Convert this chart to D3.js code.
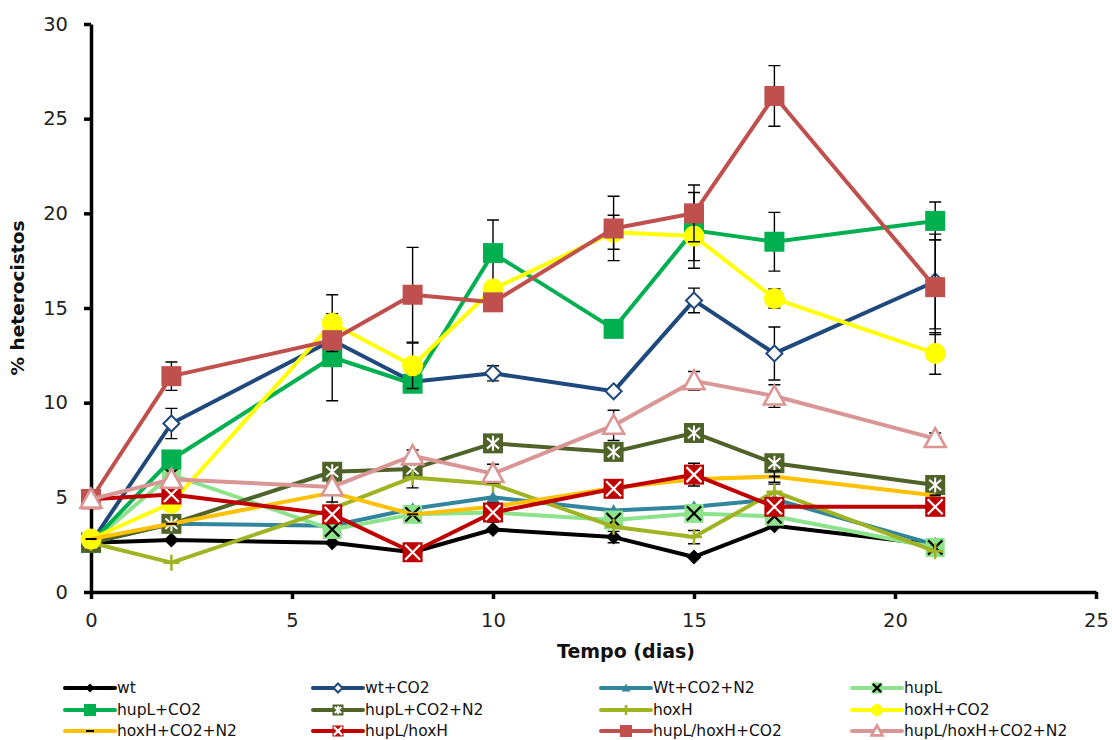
<!DOCTYPE html>
<html><head><meta charset="utf-8">
<script src="https://cdn.jsdelivr.net/npm/d3@7"></script>
<style>body{margin:0;background:#fff;} svg{display:block;}</style>
</head><body>
<svg id="c" width="1112" height="740"></svg>
<script>
const days = [0, 2, 6, 8, 10, 13, 15, 17, 21];
const xTicks = [0, 5, 10, 15, 20, 25];
const yTicks = [0, 5, 10, 15, 20, 25, 30];
const seriesNames = ["wt","wt+CO2","Wt+CO2+N2","hupL","hupL+CO2","hupL+CO2+N2","hoxH","hoxH+CO2","hoxH+CO2+N2","hupL/hoxH","hupL/hoxH+CO2","hupL/hoxH+CO2+N2"];
const wt            = [2.6, 2.75, 2.6, 2.1, 3.3, 2.9, 1.85, 3.5, 2.5];
const wtCO2         = [2.6, 8.9, 13.3, 11.1, 11.55, 10.6, 15.4, 12.6, 16.4];
const wtCO2N2       = [2.6, 3.6, 3.5, 4.4, 5.0, 4.3, 4.5, 4.9, 2.5];
const hupL          = [2.6, 6.2, 3.3, 4.1, 4.2, 3.8, 4.15, 4.0, 2.35];
const hupLCO2       = [2.6, 7.0, 12.4, 11.0, 17.9, 13.9, 19.1, 18.5, 19.6];
const hupLCO2N2     = [2.6, 3.6, 6.35, 6.5, 7.85, 7.4, 8.4, 6.8, 5.65];
const hoxH          = [2.6, 1.55, 4.4, 6.05, 5.7, 3.45, 2.9, 5.3, 2.15];
const hoxHCO2       = [2.8, 4.7, 14.2, 11.95, 16.0, 19.0, 18.8, 15.5, 12.6];
const hoxHCO2N2     = [2.8, 3.6, 5.25, 4.1, 4.5, 5.5, 5.95, 6.1, 5.1];
const hupLhoxH      = [4.9, 5.15, 4.1, 2.1, 4.2, 5.45, 6.2, 4.5, 4.5];
const hupLhoxHCO2   = [4.9, 11.4, 13.3, 15.7, 15.3, 19.2, 20.0, 26.2, 16.1];
const hupLhoxHCO2N2 = [4.9, 5.95, 5.55, 7.2, 6.25, 8.8, 11.15, 10.35, 8.1];
// error (± values)
const errWt            = [0,0,0,0,0,0.3,0,0,0];
const errWtCO2         = [0,0.8,0,0,0.4,0.15,0.65,1.4,2.5];
const errWtCO2N2       = [0,0,0,0,0,0,0,0,0];
const errHupL          = [0,0,0,0,0,0,0,0,0];
const errHupLCO2       = [0,0,2.3,0,1.75,0,2.0,1.55,1.0];
const errHupLCO2N2     = [0,0,0,1.0,0,0,0,0,0];
const errHoxH          = [0,0,0,0,0,0,0.35,0.4,0];
const errHoxHCO2       = [0,0,1.5,1.2,0,0.9,1.3,0.5,1.1];
const errHoxHCO2N2     = [0,0,0.5,0,0,0,0,0.3,0];
const errHupLhoxH      = [0,0,0,0,0.5,0,0.6,0,0];
const errHupLhoxHCO2   = [0,0.75,0,2.5,0,1.7,1.5,1.6,2.5];
const errHupLhoxHCO2N2 = [0,0,0,0,0.5,0.8,0.5,0.6,0.3];

const values = [wt,wtCO2,wtCO2N2,hupL,hupLCO2,hupLCO2N2,hoxH,hoxHCO2,hoxHCO2N2,hupLhoxH,hupLhoxHCO2,hupLhoxHCO2N2];
const errors = [errWt,errWtCO2,errWtCO2N2,errHupL,errHupLCO2,errHupLCO2N2,errHoxH,errHoxHCO2,errHoxHCO2N2,errHupLhoxH,errHupLhoxHCO2,errHupLhoxHCO2N2];
const colors = ["#000000","#1F497D","#31859C","#8CE38C","#00B050","#4F6228","#A0B423","#FFFF00","#FFC000","#C00000","#C0504D","#DA9694"];
const markers = ["diamond","diamondOpen","triangle","xsquareBlack","square","asterisk","plus","circle","dash","xsquareWhite","square","triangleOpen"];

const svg = d3.select("#c");
const x = d3.scaleLinear().domain([0,25]).range([91,1096]);
const y = d3.scaleLinear().domain([0,30]).range([592,24]);
const font = "'DejaVu Sans', Verdana, sans-serif";

// axes
const gx = svg.append("g").attr("transform","translate(0,592)")
  .call(d3.axisBottom(x).tickValues(xTicks).tickSize(7).tickSizeOuter(0).tickPadding(14));
const gy = svg.append("g").attr("transform","translate(91,0)")
  .call(d3.axisLeft(y).tickValues(yTicks).tickSize(7).tickSizeOuter(0).tickPadding(16));
[gx,gy].forEach(g=>{
  g.select(".domain").attr("stroke","#000").attr("stroke-width",3.5);
  g.selectAll(".tick line").attr("stroke","#000").attr("stroke-width",3.5);
  g.selectAll(".tick text").attr("fill","#222").style("font-family",font).style("font-size","19.5px");
});

svg.append("text").attr("x",626).attr("y",658).attr("text-anchor","middle")
  .style("font-family",font).style("font-size","19px").style("font-weight","bold").attr("fill","#111")
  .text("Tempo (dias)");
svg.append("text").attr("transform","translate(24,298) rotate(-90)").attr("text-anchor","middle")
  .style("font-family",font).style("font-size","18.5px").style("font-weight","bold").attr("fill","#111")
  .text("% heterocistos");

function drawMarker(g, type, color, cx, cy, s) {
  const h = s/2;
  const m = g.append("g").attr("transform",`translate(${cx},${cy})`);
  switch(type){
    case "diamond":
      m.append("path").attr("d",`M0,${-h}L${h},0L0,${h}L${-h},0Z`).attr("fill",color); break;
    case "diamondOpen":
      m.append("path").attr("d",`M0,${-h}L${h},0L0,${h}L${-h},0Z`).attr("fill","#fff").attr("stroke",color).attr("stroke-width",2); break;
    case "triangle":
      m.append("path").attr("d",`M0,${-h}L${h},${h*0.8}L${-h},${h*0.8}Z`).attr("fill",color); break;
    case "triangleOpen":
      m.append("path").attr("d",`M0,${-h}L${h},${h*0.8}L${-h},${h*0.8}Z`).attr("fill","#fff").attr("stroke",color).attr("stroke-width",2.6); break;
    case "square":
      m.append("rect").attr("x",-h).attr("y",-h).attr("width",s).attr("height",s).attr("fill",color); break;
    case "circle":
      m.append("circle").attr("r",h).attr("fill",color); break;
    case "xsquareBlack":
    case "xsquareWhite": {
      m.append("rect").attr("x",-h).attr("y",-h).attr("width",s).attr("height",s).attr("fill",color);
      const k = h*0.75, st = type==="xsquareBlack" ? "#000" : "#fff";
      m.append("path").attr("d",`M${-k},${-k}L${k},${k}M${-k},${k}L${k},${-k}`).attr("stroke",st).attr("stroke-width",2.2);
      break; }
    case "asterisk": {
      m.append("rect").attr("x",-h).attr("y",-h).attr("width",s).attr("height",s).attr("fill",color);
      const k = h*0.75;
      m.append("path").attr("d",`M0,${-k}L0,${k}M${-k*0.8},${-k*0.7}L${k*0.8},${k*0.7}M${-k*0.8},${k*0.7}L${k*0.8},${-k*0.7}`).attr("stroke","#fff").attr("stroke-width",2); break; }
    case "plus":
      m.append("path").attr("d",`M${-h},0L${h},0M0,${-h}L0,${h}`).attr("stroke",color).attr("stroke-width",2.5); break;
    case "dash":
      m.append("path").attr("d",`M${-h},0L${h},0`).attr("stroke","#000").attr("stroke-width",2); break;
  }
}
const sizes = {diamond:15,diamondOpen:16,triangle:13,triangleOpen:21,square:20,circle:21,xsquareBlack:19,xsquareWhite:20,asterisk:20,plus:16,dash:11};
const legendSizes = {diamond:9,diamondOpen:9,triangle:9,triangleOpen:11,square:12,circle:12,xsquareBlack:11,xsquareWhite:11,asterisk:11,plus:10,dash:8};

const line = d3.line().x((d,i)=>x(days[i])).y(d=>y(d));
const plot = svg.append("g");
values.forEach((vals,si)=>{
  const g = plot.append("g");
  g.append("path").datum(vals).attr("d",line).attr("fill","none")
    .attr("stroke",colors[si]).attr("stroke-width",4).attr("stroke-linejoin","round");
  errors[si].forEach((e,i)=>{
    if(!e) return;
    const cx = x(days[i]), y1 = y(vals[i]+e), y2 = y(vals[i]-e);
    g.append("path").attr("d",`M${cx},${y1}L${cx},${y2}M${cx-6},${y1}L${cx+6},${y1}M${cx-6},${y2}L${cx+6},${y2}`)
      .attr("stroke","#000").attr("stroke-width",1.4).attr("fill","none");
  });
  vals.forEach((v,i)=>drawMarker(g, markers[si], colors[si], x(days[i]), y(v), sizes[markers[si]]));
});

// legend
const colX = [65, 313, 601, 852];
const rowY = [688, 710, 731];
seriesNames.forEach((name,si)=>{
  const c = si % 4, r = Math.floor(si/4);
  const lx = colX[c], ly = rowY[r];
  const g = svg.append("g");
  g.append("line").attr("x1",lx).attr("x2",lx+50).attr("y1",ly).attr("y2",ly)
    .attr("stroke",colors[si]).attr("stroke-width",4).attr("stroke-linecap","round");
  drawMarker(g, markers[si], colors[si], lx+25, ly, legendSizes[markers[si]]);
  g.append("text").attr("x",lx+52).attr("y",ly).attr("dy","0.35em")
    .style("font-family",font).style("font-size","15.5px").attr("fill","#111").text(name);
});
</script>
</body></html>
